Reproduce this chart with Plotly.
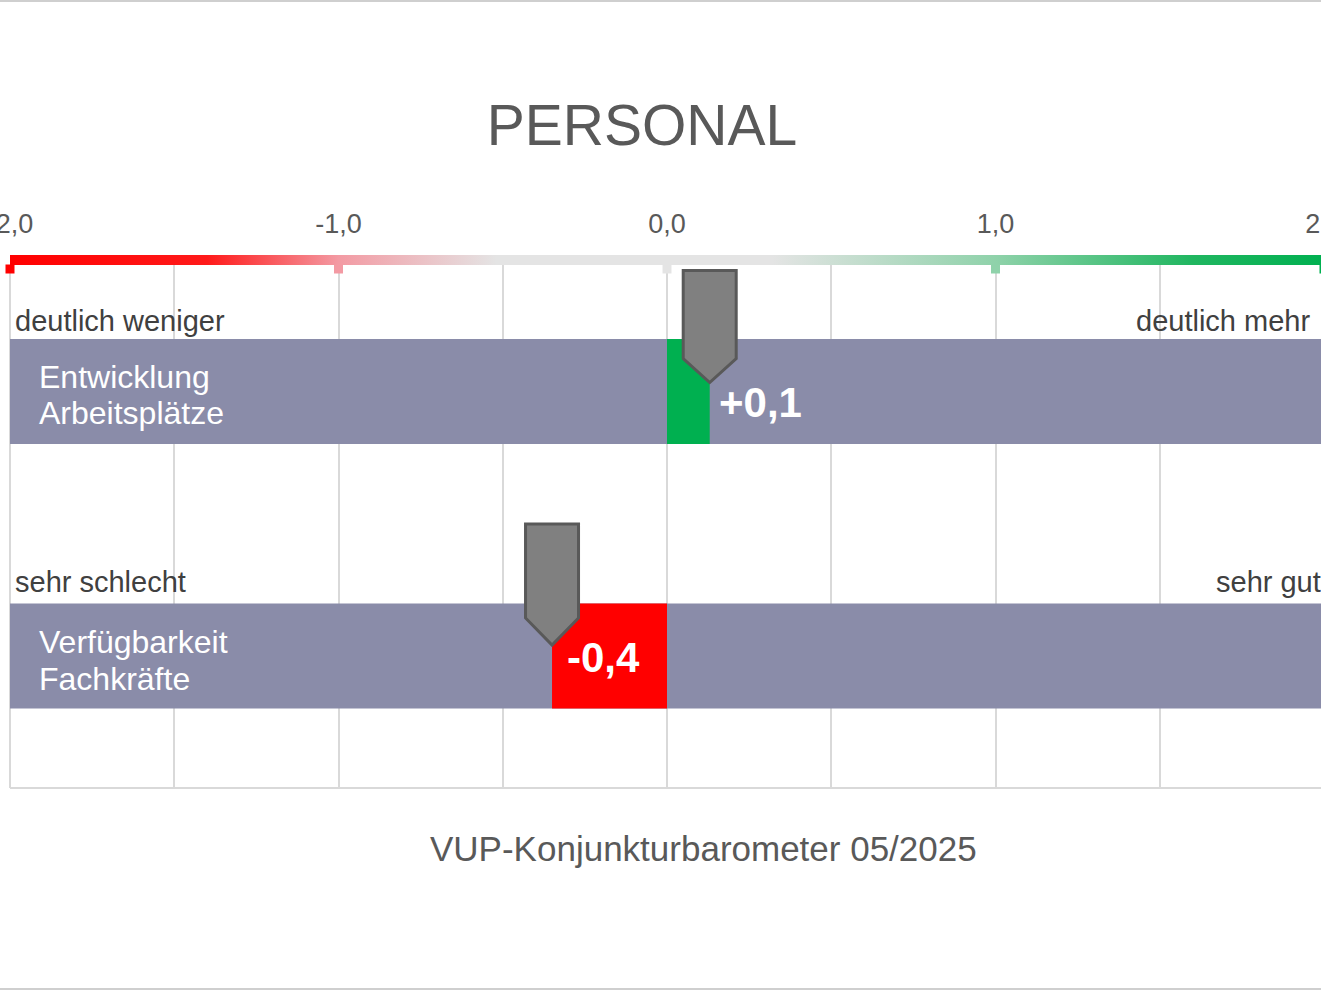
import plotly.graph_objects as go

# ---------------- data ----------------
row_labels = ["Entwicklung\nArbeitsplätze", "Verfügbarkeit\nFachkräfte"]
values = [0.13, -0.35]
value_labels = ["+0,1", "-0,4"]
left_labels = ["deutlich weniger", "sehr schlecht"]
right_labels = ["deutlich mehr", "sehr gut"]
scale_min = -2.0
scale_max = 2.0
tick_vals = [-2, -1.5, -1, -0.5, 0, 0.5, 1, 1.5, 2]
tick_text = ["-2,0", "", "-1,0", "", "0,0", "", "1,0", "", "2,0"]
scale_marks = [-2, -1, 0, 1, 2]
title_text = "PERSONAL"
subtitle_text = "VUP-Konjunkturbarometer 05/2025"

# ---------------- styles / layout ----------------
FONT = "Arial, Liberation Sans, sans-serif"
W, H = 1335, 991
ML, MR = 10, 11
PLOT_TOP, PLOT_BOT = 255, 788
ROW0_PX, ROW_STEP = 391.5, 264.5
BAR_PX = 105
GRAD = [[0.0, "#FF0000"], [0.15, "#FF1A1A"], [0.25, "#F39AA3"],
        [0.37, "#E4E4E4"], [0.58, "#E4E4E4"], [0.75, "#8FD2AA"],
        [0.9, "#20B660"], [1.0, "#00B050"]]
BG_BAR = "#8A8CA9"
POS_COL, NEG_COL = "#00B050", "#FF0000"
GRID = "#D9D9D9"
TXT = "#595959"
LBL = "#404040"


def py(px):
    return (px - ROW0_PX) / ROW_STEP


def paper_y(px):
    return (PLOT_BOT - px) / (PLOT_BOT - PLOT_TOP)


def paper_x(px):
    return (px - ML) / (W - ML - MR)


rows = list(range(len(row_labels)))
bar_w = BAR_PX / ROW_STEP

fig = go.Figure()

# background bars
fig.add_trace(go.Bar(
    y=rows, x=[scale_max - scale_min] * len(rows), base=scale_min,
    orientation="h", width=bar_w, marker=dict(color=BG_BAR, line_width=0),
    hoverinfo="skip", showlegend=False))

# value bars
fig.add_trace(go.Bar(
    y=rows, x=values, base=0, orientation="h", width=bar_w,
    marker=dict(color=[POS_COL if v >= 0 else NEG_COL for v in values], line_width=0),
    hoverinfo="skip", showlegend=False))

# gradient scale strip
fig.add_trace(go.Scatter(
    x=[scale_min, scale_max, scale_max, scale_min, scale_min],
    y=[py(PLOT_TOP), py(PLOT_TOP), py(265), py(265), py(PLOT_TOP)],
    mode="lines", line=dict(width=0), fill="toself",
    fillgradient=dict(type="horizontal", colorscale=GRAD),
    hoverinfo="skip", showlegend=False))

# small scale marks
fig.add_trace(go.Scatter(
    x=scale_marks, y=[py(269)] * len(scale_marks), mode="markers",
    marker=dict(symbol="square", size=9, color=scale_marks, colorscale=GRAD,
                cmin=scale_min, cmax=scale_max, line_width=0),
    cliponaxis=False, hoverinfo="skip", showlegend=False))

annotations = []
left_shift = [71, 74]
right_xshift = [-12, -1]
label_y = [[15, -21], [14, -23]]
value_yshift = [-11, -1]
for i, r in enumerate(rows):
    annotations.append(dict(x=scale_min, y=r, xref="x", yref="y", text=left_labels[i],
                            xanchor="left", yanchor="middle", xshift=3, yshift=left_shift[i],
                            showarrow=False, font=dict(family=FONT, size=29, color=LBL)))
    annotations.append(dict(x=scale_max, y=r, xref="x", yref="y", text=right_labels[i],
                            xanchor="right", yanchor="middle", xshift=right_xshift[i],
                            yshift=left_shift[i], showarrow=False,
                            font=dict(family=FONT, size=29, color=LBL)))
    for j, line in enumerate(row_labels[i].split("\n")):
        annotations.append(dict(x=scale_min, y=r, xref="x", yref="y", text=line,
                                xanchor="left", yanchor="middle", xshift=27,
                                yshift=label_y[i][j], showarrow=False,
                                font=dict(family=FONT, size=32, color="white")))
    annotations.append(dict(x=values[i], y=r, xref="x", yref="y",
                            text="<b>%s</b>" % value_labels[i],
                            xanchor="center", yanchor="middle", xshift=51,
                            yshift=value_yshift[i], showarrow=False,
                            font=dict(family=FONT, size=42, color="white")))

annotations.append(dict(x=paper_x(703), y=paper_y(848), xref="paper", yref="paper",
                        text=subtitle_text, showarrow=False, xanchor="center",
                        yanchor="middle", font=dict(family=FONT, size=35, color=TXT)))

shapes = []
# pointers
pointer_paths = ["M -26.5,121 L 26.5,121 L 26.5,33 L 0,9 L -26.5,33 Z",
                 "M -26.5,132 L 26.5,132 L 26.5,38 L 0,11 L -26.5,38 Z"]
for i, r in enumerate(rows):
    shapes.append(dict(type="path", xref="x", yref="y",
                       xsizemode="pixel", xanchor=values[i],
                       ysizemode="pixel", yanchor=r,
                       path=pointer_paths[i],
                       fillcolor="#808080", line=dict(color="#595959", width=3),
                       layer="above"))
# frame lines (bottom, left)
shapes.append(dict(type="line", xref="paper", yref="paper", x0=0, x1=1, y0=0, y1=0,
                   line=dict(color=GRID, width=2), layer="below"))
shapes.append(dict(type="line", xref="paper", yref="paper", x0=0, x1=0, y0=0,
                   y1=paper_y(265), line=dict(color=GRID, width=2), layer="below"))
# page border lines
for ypx in [1, 989]:
    shapes.append(dict(type="line", xref="paper", yref="paper", x0=-0.02, x1=1.02,
                       y0=paper_y(ypx), y1=paper_y(ypx),
                       line=dict(color="#CFCFCF", width=2)))

fig.update_layout(
    width=W, height=H, margin=dict(l=ML, r=MR, t=PLOT_TOP, b=H - PLOT_BOT, pad=0,
                                   autoexpand=False),
    paper_bgcolor="white", plot_bgcolor="white", barmode="overlay",
    title=dict(text=title_text, x=642 / W, y=1 - 125 / H, xref="container",
               yref="container", xanchor="center", yanchor="middle",
               font=dict(family=FONT, size=57, color=TXT)),
    xaxis=dict(range=[scale_min, scale_max], side="top", tickvals=tick_vals,
               ticktext=tick_text, showgrid=True, gridcolor=GRID, gridwidth=2,
               zeroline=False, showline=False, ticks="", ticklabelstandoff=16,
               ticklabeloverflow="allow", automargin=False,
               tickfont=dict(family=FONT, size=27, color=TXT), fixedrange=True),
    yaxis=dict(range=[py(PLOT_BOT), py(PLOT_TOP)], showgrid=False, zeroline=False,
               showticklabels=False, showline=False, ticks="", fixedrange=True,
               automargin=False),
    annotations=annotations, shapes=shapes, showlegend=False,
)

fig.write_html("out.html", post_script=(
    "document.body.style.margin='0';document.body.style.overflow='hidden';"
    "document.documentElement.style.overflow='hidden';"))
